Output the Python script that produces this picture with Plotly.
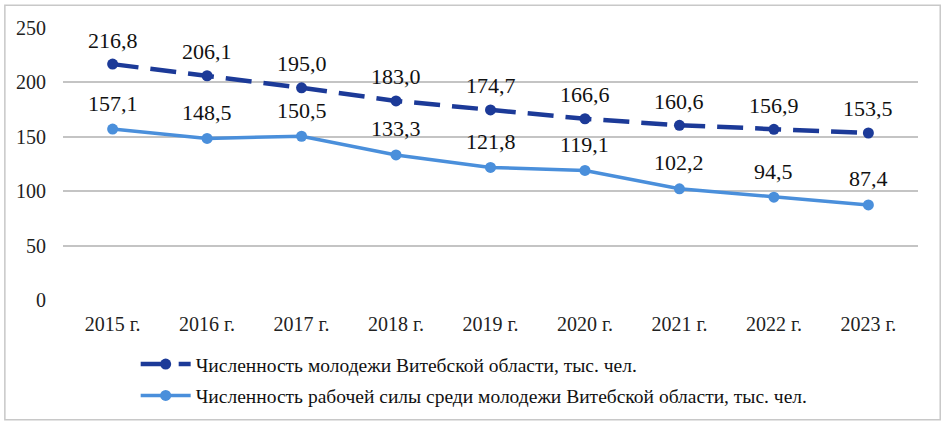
import plotly.graph_objects as go

years = ["2015 г.", "2016 г.", "2017 г.", "2018 г.", "2019 г.", "2020 г.", "2021 г.", "2022 г.", "2023 г."]
youth = [216.8, 206.1, 195.0, 183.0, 174.7, 166.6, 160.6, 156.9, 153.5]
labor = [157.1, 148.5, 150.5, 133.3, 121.8, 119.1, 102.2, 94.5, 87.4]
name_youth = "Численность молодежи Витебской области, тыс. чел."
name_labor = "Численность рабочей силы среди молодежи Витебской области, тыс. чел."
yticks = [0, 50, 100, 150, 200, 250]

dark = "#1c3a98"
light = "#4a8fdb"
font = "Liberation Serif, Times New Roman, serif"

fig = go.Figure()
fig.add_trace(go.Scatter(x=years, y=youth, name=name_youth, mode="lines+markers",
                         line=dict(color=dark, width=4.5, dash="26px,12px"),
                         marker=dict(size=11, color=dark), legendgroup="a"))
fig.add_trace(go.Scatter(x=years, y=labor, name=name_labor, mode="lines+markers",
                         line=dict(color=light, width=3.5),
                         marker=dict(size=11, color=light), legendgroup="b"))

def fmt(v):
    return f"{v:.1f}".replace(".", ",")

annotations = []
for x, v in zip(years, youth):
    annotations.append(dict(x=x, y=v, text=fmt(v), showarrow=False, yshift=24,
                            font=dict(family=font, size=22, color="#111")))
for x, v in zip(years, labor):
    annotations.append(dict(x=x, y=v, text=fmt(v), showarrow=False, yshift=26,
                            font=dict(family=font, size=22, color="#111")))

fig.update_layout(
    width=945, height=427,
    margin=dict(l=63, r=27, t=28, b=127),
    paper_bgcolor="white", plot_bgcolor="white",
    font=dict(family=font, size=19.5, color="#222"),
    annotations=annotations,
    showlegend=True,
    legend=dict(x=0.085, xanchor="left", y=-0.165, yanchor="top",
                font=dict(family=font, size=19.5, color="#111"),
                tracegroupgap=3, itemwidth=50, bgcolor="rgba(0,0,0,0)"),
    shapes=[dict(type="rect", xref="paper", yref="paper",
                 x0=-0.068, x1=1.026, y0=-0.44, y1=1.084,
                 line=dict(color="#c8c8c8", width=1.5))],
)
fig.update_xaxes(showgrid=False, showline=False, ticks="", ticklabelstandoff=10,
                 tickfont=dict(family=font, size=20, color="#222"))
fig.update_yaxes(range=[0, 250], tickvals=yticks, showgrid=True, gridcolor="#c4c4c4",
                 gridwidth=1.5, zeroline=False, showline=False, ticks="", ticklabelstandoff=16,
                 tickfont=dict(family=font, size=20, color="#222"))

fig.write_html("out.html", config={"displayModeBar": False},
               post_script="document.body.style.margin='0';")
